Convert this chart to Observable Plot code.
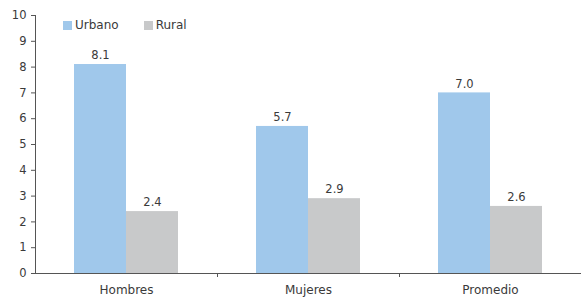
<!DOCTYPE html>
<html><head><meta charset="utf-8">
<script src="https://cdn.jsdelivr.net/npm/d3@7"></script>
<script src="https://cdn.jsdelivr.net/npm/@observablehq/plot@0.6"></script>
<style>
body{margin:0;background:#fff;font-family:"DejaVu Sans",sans-serif;}
#wrap{position:relative;width:582px;height:297px;overflow:hidden;}
#legend{position:absolute;left:63px;top:18px;font-size:12px;color:#3a3a3a;display:flex;gap:0;line-height:14px;}
.sw{display:inline-flex;align-items:center;margin-right:25px;}
.sw i{display:inline-block;width:9px;height:9px;margin-right:3px;}
</style></head><body>
<div id="wrap"><div id="legend"></div></div>
<script>
const categories = ["Hombres", "Mujeres", "Promedio"];
const series = ["Urbano", "Rural"];
const urbano = [8.1, 5.7, 7.0];
const rural = [2.4, 2.9, 2.6];
const colors = ["#A0C8EB", "#C8C9CA"];
const yTicks = [0,1,2,3,4,5,6,7,8,9,10];

const data = [];
categories.forEach((c, i) => {
  data.push({cat: c, serie: "Urbano", value: urbano[i]});
  data.push({cat: c, serie: "Rural", value: rural[i]});
});

const plot = Plot.plot({
  width: 582, height: 297,
  marginLeft: 34, marginRight: 0, marginTop: 15, marginBottom: 24,
  style: {fontFamily: "DejaVu Sans, sans-serif", fontSize: "11.5px", color: "#3a3a3a", background: "#fff"},
  fx: {domain: categories, padding: 0, label: null, axis: null},
  x: {domain: series, paddingInner: 0, paddingOuter: 0.726, axis: null},
  y: {domain: [0, 10], label: null},
  color: {domain: series, range: colors},
  marks: [
    Plot.barY(data, {fx: "cat", x: "serie", y: "value", fill: "serie"}),
    Plot.text(data, {fx: "cat", x: "serie", y: "value", text: d => d.value.toFixed(1), dy: -9, fill: "#3a3a3a", fontSize: 11.5}),
    Plot.axisY({ticks: yTicks, tickSize: 4, tickPadding: 5, stroke: "#555", fill: "#3a3a3a", fontSize: 11.5}),
    Plot.axisFx({anchor: "bottom", tickSize: 0, tickPadding: 12, fill: "#3a3a3a", fontSize: 12, label: null}),
    Plot.ruleY([0], {stroke: "#555", strokeWidth: 1})
  ]
});
document.getElementById("wrap").appendChild(plot);

// axis line and category boundary ticks from the plot's own scales
const sy = plot.scale("y"), sfx = plot.scale("fx");
const svg = d3.select(plot);
const x0 = sfx.apply(categories[0]);
svg.append("line").attr("x1", x0 + 0.5).attr("x2", x0 + 0.5)
  .attr("y1", sy.apply(10)).attr("y2", sy.apply(0)).attr("stroke", "#555");
categories.slice(1).forEach(c => {
  const xb = Math.round(sfx.apply(c)) + 0.5;
  svg.append("line").attr("x1", xb).attr("x2", xb)
    .attr("y1", sy.apply(0)).attr("y2", sy.apply(0) + 4).attr("stroke", "#555");
});

const lg = document.getElementById("legend");
series.forEach((s, i) => {
  const el = document.createElement("span");
  el.className = "sw";
  el.innerHTML = `<i style="background:${colors[i]}"></i>${s}`;
  lg.appendChild(el);
});
</script>
</body></html>
